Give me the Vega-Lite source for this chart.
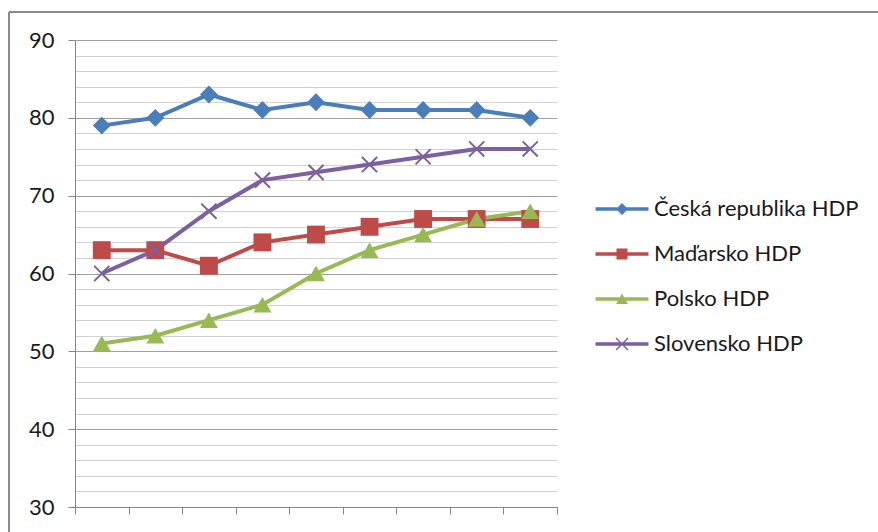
{
  "$schema": "https://vega.github.io/schema/vega-lite/v6.json",
  "width": 869,
  "height": 520,
  "autosize": {"type": "none"},
  "padding": {"left": 9, "top": 12, "right": 0, "bottom": 0},
  "background": "white",
  "config": {
    "font": "Lato",
    "view": {"stroke": "#8a8a8a", "strokeWidth": 2, "strokeDash": [869, 1389, 520, 0]}
  },
  "data": {
    "values": [
      {"rok": "2000", "zeme": "Česká republika HDP", "hdp": 79},
      {"rok": "2001", "zeme": "Česká republika HDP", "hdp": 80},
      {"rok": "2002", "zeme": "Česká republika HDP", "hdp": 83},
      {"rok": "2003", "zeme": "Česká republika HDP", "hdp": 81},
      {"rok": "2004", "zeme": "Česká republika HDP", "hdp": 82},
      {"rok": "2005", "zeme": "Česká republika HDP", "hdp": 81},
      {"rok": "2006", "zeme": "Česká republika HDP", "hdp": 81},
      {"rok": "2007", "zeme": "Česká republika HDP", "hdp": 81},
      {"rok": "2008", "zeme": "Česká republika HDP", "hdp": 80},
      {"rok": "2000", "zeme": "Maďarsko HDP", "hdp": 63},
      {"rok": "2001", "zeme": "Maďarsko HDP", "hdp": 63},
      {"rok": "2002", "zeme": "Maďarsko HDP", "hdp": 61},
      {"rok": "2003", "zeme": "Maďarsko HDP", "hdp": 64},
      {"rok": "2004", "zeme": "Maďarsko HDP", "hdp": 65},
      {"rok": "2005", "zeme": "Maďarsko HDP", "hdp": 66},
      {"rok": "2006", "zeme": "Maďarsko HDP", "hdp": 67},
      {"rok": "2007", "zeme": "Maďarsko HDP", "hdp": 67},
      {"rok": "2008", "zeme": "Maďarsko HDP", "hdp": 67},
      {"rok": "2000", "zeme": "Polsko HDP", "hdp": 51},
      {"rok": "2001", "zeme": "Polsko HDP", "hdp": 52},
      {"rok": "2002", "zeme": "Polsko HDP", "hdp": 54},
      {"rok": "2003", "zeme": "Polsko HDP", "hdp": 56},
      {"rok": "2004", "zeme": "Polsko HDP", "hdp": 60},
      {"rok": "2005", "zeme": "Polsko HDP", "hdp": 63},
      {"rok": "2006", "zeme": "Polsko HDP", "hdp": 65},
      {"rok": "2007", "zeme": "Polsko HDP", "hdp": 67},
      {"rok": "2008", "zeme": "Polsko HDP", "hdp": 68},
      {"rok": "2000", "zeme": "Slovensko HDP", "hdp": 60},
      {"rok": "2001", "zeme": "Slovensko HDP", "hdp": 63},
      {"rok": "2002", "zeme": "Slovensko HDP", "hdp": 68},
      {"rok": "2003", "zeme": "Slovensko HDP", "hdp": 72},
      {"rok": "2004", "zeme": "Slovensko HDP", "hdp": 73},
      {"rok": "2005", "zeme": "Slovensko HDP", "hdp": 74},
      {"rok": "2006", "zeme": "Slovensko HDP", "hdp": 75},
      {"rok": "2007", "zeme": "Slovensko HDP", "hdp": 76},
      {"rok": "2008", "zeme": "Slovensko HDP", "hdp": 76}
    ]
  },
  "encoding": {
    "x": {
      "field": "rok",
      "type": "ordinal",
      "scale": {"type": "band", "paddingInner": 0, "paddingOuter": 0, "range": [66, 548]},
      "axis": {
        "title": null,
        "labels": false,
        "grid": false,
        "tickBand": "extent",
        "tickSize": 7,
        "tickColor": "#868686",
        "domainColor": "#868686",
        "offset": -25
      }
    },
    "y": {
      "field": "hdp",
      "type": "quantitative",
      "scale": {"domain": [30, 90], "range": [495, 28], "nice": false, "zero": false},
      "axis": {
        "title": null,
        "values": [30, 32, 34, 36, 38, 40, 42, 44, 46, 48, 50, 52, 54, 56, 58, 60, 62, 64, 66, 68, 70, 72, 74, 76, 78, 80, 82, 84, 86, 88, 90],
        "offset": -66,
        "domainColor": "#868686",
        "grid": true,
        "gridColor": {"condition": {"test": "datum.value % 10 === 0", "value": "#a0a0a0"}, "value": "#d2d2d2"},
        "tickSize": 7,
        "tickColor": {"condition": {"test": "datum.value % 10 === 0", "value": "#868686"}, "value": "transparent"},
        "labelExpr": "datum.value % 10 === 0 ? datum.label : ''",
        "labelFont": "Lato",
        "labelFontSize": 22,
        "labelColor": "#1a1a1a",
        "labelPadding": 14
      }
    }
  },
  "layer": [
    {
      "mark": {"type": "line", "strokeWidth": 4},
      "encoding": {
        "color": {
          "field": "zeme",
          "type": "nominal",
          "scale": {
            "domain": ["Česká republika HDP", "Maďarsko HDP", "Polsko HDP", "Slovensko HDP"],
            "range": ["#4A7EBB", "#BE4B48", "#98B954", "#7D60A0"]
          },
          "legend": {
            "title": null,
            "orient": "none",
            "legendX": 602,
            "legendY": 186,
            "padding": 0,
            "symbolSize": 400,
            "symbolStrokeWidth": 0,
            "symbolOpacity": 1,
            "symbolFillColor": {"expr": "scale('color', datum.value)"},
            "symbolType": {"expr": "datum.value === 'Česká republika HDP' ? 'M-2.65,-0.17H2.65V0.17H-2.65ZM-0.6,0L0,-0.6L0.6,0L0,0.6Z' : datum.value === 'Maďarsko HDP' ? 'M-2.65,-0.17H2.65V0.17H-2.65ZM-0.55,-0.55H0.55V0.55H-0.55Z' : datum.value === 'Polsko HDP' ? 'M-2.65,-0.17H2.65V0.17H-2.65ZM0,-0.55L0.6,0.5H-0.6Z' : 'M-2.65,-0.17H2.65V0.17H-2.65ZM-0.55,-0.65L0.65,0.55L0.55,0.65L-0.65,-0.55ZM-0.65,0.55L0.55,-0.65L0.65,-0.55L-0.55,0.65Z'"},
            "rowPadding": 23,
            "labelOffset": 21,
            "labelFont": "Lato",
            "labelFontSize": 22,
            "labelColor": "#1a1a1a",
            "labelLimit": 400
          }
        }
      }
    },
    {
      "mark": {"type": "point", "filled": true, "opacity": 1, "size": 320},
      "encoding": {
        "color": {"field": "zeme", "type": "nominal", "legend": null},
        "shape": {
          "field": "zeme",
          "type": "nominal",
          "legend": null,
          "scale": {
            "domain": ["Slovensko HDP", "Polsko HDP", "Maďarsko HDP", "Česká republika HDP"],
            "range": ["M-0.93,-0.77L0.77,0.93L0.93,0.77L-0.77,-0.93ZM-0.77,0.93L0.93,-0.77L0.77,-0.93L-0.93,0.77Z", "triangle-up", "square", "diamond"]
          }
        }
      }
    }
  ]
}
